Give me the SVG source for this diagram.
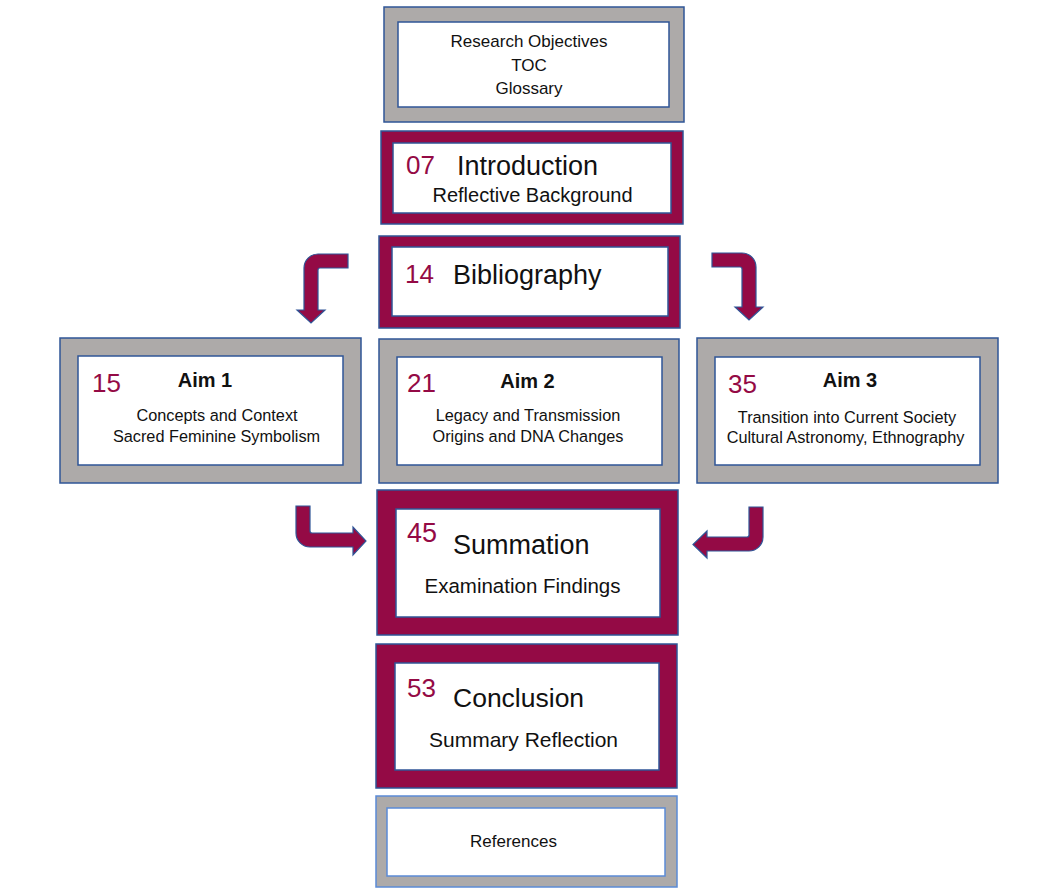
<svg xmlns="http://www.w3.org/2000/svg" width="1037" height="894" viewBox="0 0 1037 894">
<style>
  text { font-family: "Liberation Sans", Arial, sans-serif; fill: #111; }
  .outer-gray { fill: #ADAAA9; stroke: #2F5597; stroke-width: 1.5; }
  .outer-red { fill: #940A45; stroke: #2F5597; stroke-width: 1.5; }
  .inner { fill: #FFFFFF; stroke: #2F5597; stroke-width: 1.5; }
  .outer-ref { fill: #ADAAA9; stroke: #5B8BD6; stroke-width: 1.5; }
  .inner-ref { fill: #FFFFFF; stroke: #5B8BD6; stroke-width: 1.5; }
  .num { fill: #940A45; }
  .mid { text-anchor: middle; }
  .aim { font-weight: bold; font-size: 20px; text-anchor: middle; }
  .sub { font-size: 16.3px; text-anchor: middle; }
  .arrow { fill: #940A45; stroke: #2F5597; stroke-width: 1.2; stroke-linejoin: miter; }
</style>

<g id="connectors">
  <path class="arrow" d="M348,254 L318,254 A14,14 0 0 0 304,268 L304,310 L297,310 L311,323 L325,310 L318,310 L318,270 Q318,268 320,268 L348,268 Z"/>
  <path class="arrow" d="M712,253 L742,253 A14,14 0 0 1 756,267 L756,307 L763,307 L749,320 L735,307 L742,307 L742,269 Q742,267 740,267 L712,267 Z"/>
  <path class="arrow" d="M296,506 L310,506 L310,531 Q310,533 312,533 L353,533 L353,527 L366,541 L353,555 L353,547 L310,547 A14,14 0 0 1 296,533 Z"/>
  <path class="arrow" d="M749,507 L763,507 L763,537 A14,14 0 0 1 749,551 L707,551 L707,558 L693,544.5 L707,531 L707,537 L747,537 Q749,537 749,535 Z"/>
</g>

<g id="front-matter">
  <rect class="outer-gray" x="384" y="7" width="300" height="115"/>
  <rect class="inner" x="398" y="22" width="271" height="85"/>
  <text class="mid" x="529" y="47" font-size="17">Research Objectives</text>
  <text class="mid" x="529" y="71" font-size="17">TOC</text>
  <text class="mid" x="529" y="94" font-size="17">Glossary</text>
</g>

<g id="introduction">
  <rect class="outer-red" x="381" y="131" width="302" height="93"/>
  <rect class="inner" x="393" y="143" width="278" height="70"/>
  <text class="num" x="406" y="174" font-size="26">07</text>
  <text x="457" y="175" font-size="27">Introduction</text>
  <text class="mid" x="532.5" y="202" font-size="20">Reflective Background</text>
</g>

<g id="bibliography">
  <rect class="outer-red" x="379" y="236" width="301" height="92"/>
  <rect class="inner" x="392" y="247" width="276" height="69"/>
  <text class="num" x="405" y="283" font-size="26">14</text>
  <text x="453" y="284" font-size="27">Bibliography</text>
</g>

<g id="aim1">
  <rect class="outer-gray" x="60" y="338" width="301" height="145"/>
  <rect class="inner" x="78" y="356" width="265" height="109"/>
  <text class="num" x="92" y="392" font-size="26">15</text>
  <text class="aim" x="205" y="387">Aim 1</text>
  <text class="sub" x="217" y="421">Concepts and Context</text>
  <text class="sub" x="216.5" y="442">Sacred Feminine Symbolism</text>
</g>

<g id="aim2">
  <rect class="outer-gray" x="379" y="339" width="300" height="144"/>
  <rect class="inner" x="397" y="357" width="265" height="108"/>
  <text class="num" x="407" y="392" font-size="26">21</text>
  <text class="aim" x="527.5" y="388">Aim 2</text>
  <text class="sub" x="528" y="421">Legacy and Transmission</text>
  <text class="sub" x="528" y="442">Origins and DNA Changes</text>
</g>

<g id="aim3">
  <rect class="outer-gray" x="697" y="338" width="301" height="145"/>
  <rect class="inner" x="715" y="357" width="265" height="108"/>
  <text class="num" x="728" y="393" font-size="26">35</text>
  <text class="aim" x="850" y="387">Aim 3</text>
  <text class="sub" x="847" y="423" font-size="16.5">Transition into Current Society</text>
  <text class="sub" x="845.5" y="443" font-size="16.5">Cultural Astronomy, Ethnography</text>
</g>

<g id="summation">
  <rect class="outer-red" x="377" y="490" width="301" height="145"/>
  <rect class="inner" x="396" y="509" width="264" height="108"/>
  <text class="num" x="407" y="542" font-size="27">45</text>
  <text x="453" y="554" font-size="27">Summation</text>
  <text class="mid" x="522.5" y="593" font-size="20.5">Examination Findings</text>
</g>

<g id="conclusion">
  <rect class="outer-red" x="376" y="644" width="301" height="144"/>
  <rect class="inner" x="395" y="663" width="264" height="107"/>
  <text class="num" x="407" y="697" font-size="26">53</text>
  <text x="453" y="707" font-size="26.5">Conclusion</text>
  <text class="mid" x="523.5" y="747" font-size="21">Summary Reflection</text>
</g>

<g id="references">
  <rect class="outer-ref" x="376" y="796" width="301" height="91"/>
  <rect class="inner-ref" x="387" y="808" width="278" height="68"/>
  <text class="mid" x="513.5" y="847" font-size="17">References</text>
</g>
</svg>
